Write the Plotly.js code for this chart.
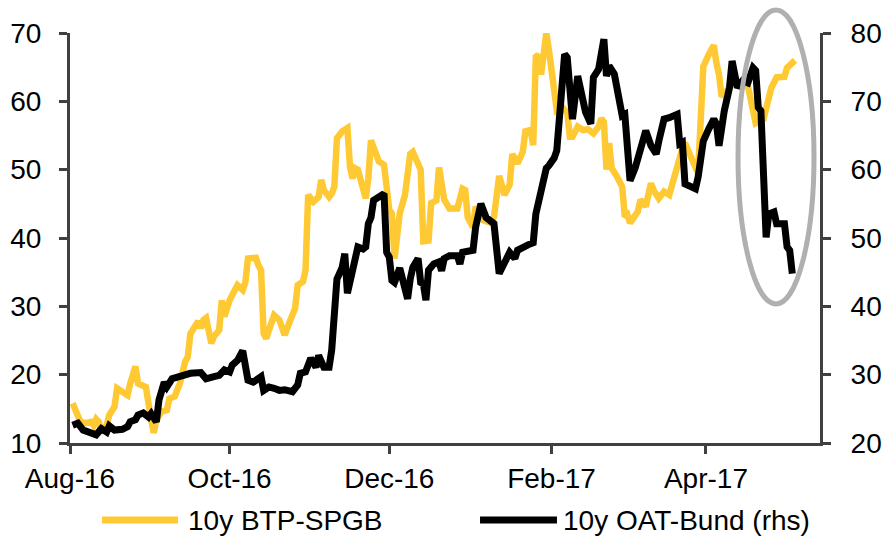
<!DOCTYPE html>
<html>
<head>
<meta charset="utf-8">
<script src="https://cdn.plot.ly/plotly-3.0.1.min.js"></script>
<style>html,body{margin:0;padding:0;background:#fff;}#chart{width:882px;height:539px;}</style>
</head>
<body>
<div id="chart"></div>
<script>
// 10y BTP-SPGB spread (lhs, bp)
const btpDates = ['2016-08-02','2016-08-04','2016-08-05','2016-08-07','2016-08-09','2016-08-10','2016-08-11','2016-08-12','2016-08-13','2016-08-15','2016-08-16','2016-08-18','2016-08-19','2016-08-21','2016-08-23','2016-08-24','2016-08-26','2016-08-27','2016-08-28','2016-08-30',
'2016-09-01','2016-09-02','2016-09-03','2016-09-05','2016-09-07','2016-09-08','2016-09-10','2016-09-12','2016-09-14','2016-09-15','2016-09-16','2016-09-17','2016-09-19','2016-09-20','2016-09-21','2016-09-22','2016-09-24','2016-09-25','2016-09-27','2016-09-28','2016-09-29','2016-09-30',
'2016-10-01','2016-10-03','2016-10-04','2016-10-06','2016-10-07','2016-10-08','2016-10-11','2016-10-12','2016-10-13','2016-10-14','2016-10-15','2016-10-16','2016-10-18','2016-10-20','2016-10-21','2016-10-22','2016-10-24','2016-10-26','2016-10-27','2016-10-29','2016-10-30','2016-10-31',
'2016-11-02','2016-11-04','2016-11-05','2016-11-06','2016-11-08','2016-11-09','2016-11-10','2016-11-11','2016-11-13','2016-11-15','2016-11-16','2016-11-17','2016-11-18','2016-11-19','2016-11-22','2016-11-23','2016-11-24','2016-11-26','2016-11-27','2016-11-29',
'2016-12-01','2016-12-02','2016-12-03','2016-12-05','2016-12-07','2016-12-09','2016-12-10','2016-12-13','2016-12-14','2016-12-16','2016-12-17','2016-12-19','2016-12-20','2016-12-22','2016-12-24','2016-12-27','2016-12-29','2016-12-30','2016-12-31',
'2017-01-02','2017-01-03','2017-01-06','2017-01-09','2017-01-10','2017-01-12','2017-01-14','2017-01-16','2017-01-17','2017-01-19','2017-01-21','2017-01-22','2017-01-24','2017-01-25','2017-01-26','2017-01-27','2017-01-28','2017-01-29','2017-01-30','2017-01-31',
'2017-02-02','2017-02-03','2017-02-05','2017-02-07','2017-02-08','2017-02-09','2017-02-11','2017-02-13','2017-02-15','2017-02-17','2017-02-19','2017-02-20','2017-02-21','2017-02-22','2017-02-23','2017-02-24','2017-02-26','2017-02-28',
'2017-03-01','2017-03-02','2017-03-03','2017-03-04','2017-03-06','2017-03-07','2017-03-09','2017-03-11','2017-03-12','2017-03-14','2017-03-16','2017-03-18','2017-03-19','2017-03-21','2017-03-23','2017-03-24','2017-03-26','2017-03-27','2017-03-29','2017-03-30','2017-03-31',
'2017-04-02','2017-04-04','2017-04-05','2017-04-06','2017-04-07','2017-04-09','2017-04-11','2017-04-14','2017-04-17','2017-04-19','2017-04-20','2017-04-23','2017-04-25','2017-04-26','2017-04-28',
'2017-05-01','2017-05-02','2017-05-04','2017-05-05'];
const btpValues = [15.8,13.8,13.1,12.9,13.1,12.6,13.5,13.1,11.5,12.6,14.1,15.3,18.0,17.5,17.0,18.7,21.2,18.7,18.5,18.2,
13.4,11.5,13.4,14.6,14.8,16.5,16.8,18.7,21.9,22.6,26.0,26.5,27.8,26.8,28.0,28.3,24.6,25.6,26.5,30.9,28.5,29.7,
30.9,32.4,33.1,32.4,33.5,37.0,37.1,36.0,35.3,26.0,25.3,26.5,28.7,28.0,26.5,25.8,27.8,29.7,33.1,33.6,35.3,46.3,
45.3,46.0,48.5,47.0,46.0,46.5,47.5,54.6,55.6,56.1,50.4,48.7,50.2,50.0,45.8,48.7,54.3,51.7,51.2,50.7,
44.1,43.6,37.0,43.6,46.3,52.3,52.6,50.0,39.5,39.6,45.1,45.5,50.3,45.6,44.3,44.3,47.2,47.0,43.0,
41.6,44.6,42.6,42.2,43.1,49.1,46.3,47.8,52.3,50.9,52.6,55.6,55.8,53.6,66.5,66.8,63.9,68.0,70.0,67.5,
61.2,58.7,59.2,58.3,54.8,54.8,56.3,55.8,55.9,55.3,56.3,57.5,57.0,50.0,53.9,50.2,49.0,47.5,
43.1,43.4,42.2,42.8,43.9,45.6,44.6,48.0,47.0,45.8,46.8,46.3,47.8,50.4,53.1,53.9,52.4,51.2,49.5,57.3,65.1,
66.8,68.2,65.6,63.9,60.7,61.5,62.7,62.2,62.3,58.7,56.8,57.4,61.2,62.0,63.5,
63.6,64.9,65.6,66.0];

// 10y OAT-Bund spread (rhs, bp)
const oatDates = ['2016-08-02','2016-08-04','2016-08-06','2016-08-09','2016-08-11','2016-08-13','2016-08-15','2016-08-16','2016-08-18','2016-08-21','2016-08-23','2016-08-24','2016-08-26','2016-08-27','2016-08-29','2016-08-31',
'2016-09-01','2016-09-03','2016-09-04','2016-09-06','2016-09-07','2016-09-09','2016-09-11','2016-09-13','2016-09-16','2016-09-20','2016-09-22','2016-09-25','2016-09-27','2016-09-29',
'2016-10-01','2016-10-02','2016-10-04','2016-10-06','2016-10-07','2016-10-08','2016-10-10','2016-10-13','2016-10-14','2016-10-16','2016-10-18','2016-10-20','2016-10-22','2016-10-25','2016-10-27','2016-10-28','2016-10-30',
'2016-11-01','2016-11-03','2016-11-04','2016-11-06','2016-11-08','2016-11-09','2016-11-10','2016-11-11','2016-11-13','2016-11-14','2016-11-15','2016-11-17','2016-11-19','2016-11-21','2016-11-22','2016-11-23','2016-11-24','2016-11-25','2016-11-27','2016-11-29','2016-11-30',
'2016-12-01','2016-12-02','2016-12-03','2016-12-05','2016-12-06','2016-12-08','2016-12-09','2016-12-10','2016-12-12','2016-12-13','2016-12-14','2016-12-15','2016-12-16','2016-12-18','2016-12-20','2016-12-21','2016-12-22','2016-12-24','2016-12-27','2016-12-28','2016-12-29',
'2017-01-02','2017-01-03','2017-01-05','2017-01-07','2017-01-10','2017-01-12','2017-01-14','2017-01-16','2017-01-18','2017-01-19','2017-01-23','2017-01-25','2017-01-26','2017-01-28','2017-01-30','2017-01-31',
'2017-02-02','2017-02-03','2017-02-05','2017-02-06','2017-02-07','2017-02-08','2017-02-09','2017-02-11','2017-02-12','2017-02-13','2017-02-14','2017-02-16','2017-02-17','2017-02-19','2017-02-20','2017-02-21','2017-02-22','2017-02-23','2017-02-25','2017-02-26','2017-02-28',
'2017-03-01','2017-03-02','2017-03-03','2017-03-05','2017-03-07','2017-03-09','2017-03-11','2017-03-13','2017-03-14','2017-03-16','2017-03-18','2017-03-21','2017-03-22','2017-03-23','2017-03-24','2017-03-26','2017-03-28','2017-03-29','2017-03-31',
'2017-04-02','2017-04-04','2017-04-05','2017-04-06','2017-04-08','2017-04-10','2017-04-11','2017-04-13','2017-04-15','2017-04-17','2017-04-19','2017-04-20','2017-04-21','2017-04-22','2017-04-24','2017-04-25','2017-04-27','2017-04-28',
'2017-05-01','2017-05-02','2017-05-03','2017-05-04'];
const oatValues = [22.6,22.9,21.9,21.6,21.2,22.1,21.6,22.5,21.9,22.0,22.4,23.1,23.4,24.1,24.4,23.8,
24.3,23.1,26.3,28.9,28.2,29.4,29.7,29.8,30.2,30.3,29.4,29.7,29.9,30.7,
30.4,31.4,32.1,33.5,30.4,29.2,28.9,29.7,27.7,28.2,28.0,27.7,27.8,27.5,28.5,30.2,30.4,
32.4,31.1,32.8,31.1,31.1,33.6,40.9,44.0,45.7,47.7,41.9,45.7,48.7,48.4,48.7,52.1,53.0,55.5,56.0,56.5,47.9,
47.2,43.8,43.5,45.6,44.3,41.1,44.0,45.7,47.0,43.5,43.3,40.9,45.3,46.2,46.5,45.2,47.0,47.4,47.4,46.2,47.9,
48.2,51.6,55.0,53.0,52.1,44.8,46.2,47.9,47.0,48.2,49.0,49.3,53.5,57.1,60.2,60.6,
61.7,62.8,72.0,76.9,76.4,73.0,67.4,73.7,71.5,69.6,68.4,66.7,73.5,74.7,76.4,79.1,73.7,75.2,74.0,71.5,67.9,
68.1,64.2,58.4,60.3,62.8,65.7,63.5,62.3,64.2,67.4,67.6,68.1,63.8,64.0,57.9,57.4,57.2,58.9,64.2,
65.9,67.4,66.7,63.5,68.6,72.0,75.9,72.0,73.0,72.7,74.9,74.5,69.1,68.6,50.1,53.5,53.8,52.1,
52.1,48.7,48.2,44.8];

const tickDates = ['2016-08-01','2016-10-01','2016-12-01','2017-02-01','2017-04-01'];
const tickLabels = ['Aug-16','Oct-16','Dec-16','Feb-17','Apr-17'];
const seriesNames = ['10y BTP-SPGB','10y OAT-Bund (rhs)'];

const FONT = 'Liberation Sans, Arial, sans-serif';
const AX = '#404040';
const YEL = '#FFC933';
const FS = 28;

const traces = [
  {x: btpDates, y: btpValues, name: seriesNames[0], type: 'scatter', mode: 'lines',
   line: {color: YEL, width: 6.5}, yaxis: 'y', showlegend: false, hoverinfo: 'skip'},
  {x: oatDates, y: oatValues, name: seriesNames[1], type: 'scatter', mode: 'lines',
   line: {color: '#000000', width: 7}, yaxis: 'y2', showlegend: false, hoverinfo: 'skip'}
];

const axCommon = {
  showgrid: false, zeroline: false, showline: true, linecolor: AX, linewidth: 3,
  ticks: 'outside', ticklen: 8, tickwidth: 3, tickcolor: AX,
  tickfont: {family: FONT, size: FS, color: '#000'}
};

const layout = {
  width: 882, height: 539,
  margin: {l: 70, r: 62, t: 33, b: 96},
  paper_bgcolor: '#fff', plot_bgcolor: '#fff',
  font: {family: FONT, size: FS, color: '#000'},
  showlegend: false,
  xaxis: Object.assign({}, axCommon, {
    type: 'date', range: ['2016-08-01', '2017-05-14 14:00'],
    tickmode: 'array', tickvals: tickDates, ticktext: tickLabels
  }),
  yaxis: Object.assign({}, axCommon, {range: [10, 70], tickmode: 'linear', tick0: 10, dtick: 10,
    ticklabelstandoff: 12}),
  yaxis2: Object.assign({}, axCommon, {range: [20, 80], tickmode: 'linear', tick0: 20, dtick: 10,
    overlaying: 'y', side: 'right', ticklabelstandoff: 14}),
  shapes: [
    {type: 'circle', xref: 'paper', yref: 'paper', x0: 0.8907, x1: 0.992, y0: 0.339, y1: 1.056,
     line: {color: '#b0b0b0', width: 5}, layer: 'above'},
    {type: 'line', xref: 'paper', yref: 'paper', x0: 0.0427, x1: 0.144, y0: -0.188, y1: -0.188,
     line: {color: YEL, width: 7}},
    {type: 'line', xref: 'paper', yref: 'paper', x0: 0.5467, x1: 0.6493, y0: -0.188, y1: -0.188,
     line: {color: '#000', width: 7}}
  ],
  annotations: [
    {text: seriesNames[0], xref: 'paper', yref: 'paper', x: 0.1547, y: -0.188, xanchor: 'left', yanchor: 'middle',
     showarrow: false, font: {family: FONT, size: FS, color: '#000'}},
    {text: seriesNames[1], xref: 'paper', yref: 'paper', x: 0.6547, y: -0.188, xanchor: 'left', yanchor: 'middle',
     showarrow: false, font: {family: FONT, size: FS, color: '#000'}}
  ]
};

Plotly.newPlot('chart', traces, layout, {staticPlot: true, displayModeBar: false});
</script>
</body>
</html>
